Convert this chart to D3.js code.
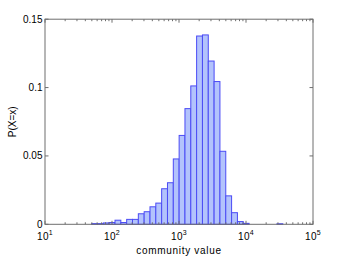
<!DOCTYPE html>
<html><head><meta charset="utf-8">
<script src="https://cdn.jsdelivr.net/npm/d3@7"></script>
<style>
html,body{margin:0;padding:0;background:#fff;}
text{font-family:"Liberation Sans",Arial,sans-serif;fill:#000;}
</style></head>
<body><div id="chart"></div>
<script>
// bin lower edges (log10 of community value)
const binLogLower = [1.697,1.784,1.871,1.958,2.045,2.132,2.219,2.306,2.393,2.480,2.567,2.654,2.741,2.828,2.915,3.002,3.089,3.176,3.263,3.350,3.437,3.524,3.611,3.698,3.785,3.872,3.959,4.462];
const binLogWidth = 0.087;
// probabilities P(X=x)
const probs = [0.0005,0.0005,0.001,0.0013,0.003,0.0013,0.0036,0.0036,0.0077,0.0092,0.0128,0.0155,0.026,0.0304,0.0478,0.065,0.0846,0.1012,0.1377,0.1385,0.1194,0.1044,0.0534,0.0208,0.0085,0.002,0.0007,0.0004];
const xTickExps = [1,2,3,4,5];
const yTicks = [0,0.05,0.1,0.15];
const yTickLabels = ["0","0.05","0.1","0.15"];
const xLabel = "community value";
const yLabel = "P(X=x)";

const W = 346, H = 258;
const m = {left:45, right:33, top:19.2, bottom:33.7};
const svg = d3.select("#chart").append("svg").attr("width",W).attr("height",H);
const x = d3.scaleLog().domain([10,1e5]).range([m.left, W-m.right]);
const y = d3.scaleLinear().domain([0,0.15]).range([H-m.bottom, m.top]);

const bins = binLogLower.map((lo,i)=>({x0:Math.pow(10,lo), x1:Math.pow(10,lo+binLogWidth), p:probs[i]}));

svg.append("g").selectAll("rect").data(bins).join("rect")
  .attr("x",d=>x(d.x0)).attr("width",d=>x(d.x1)-x(d.x0))
  .attr("y",d=>y(d.p)).attr("height",d=>y(0)-y(d.p))
  .attr("fill","#b3c3fc").attr("stroke","#4b4bf5").attr("stroke-width",1);

const axColor = "#6e6e6e";
// frame
svg.append("rect").attr("x",m.left).attr("y",m.top).attr("width",W-m.right-m.left).attr("height",H-m.bottom-m.top)
  .attr("fill","none").attr("stroke",axColor).attr("stroke-width",1);

// x ticks (major & minor) bottom and top, inward
const minorVals = [];
xTickExps.slice(0,-1).forEach(e=>{for(let k=2;k<=9;k++) minorVals.push(k*Math.pow(10,e));});
const majorVals = xTickExps.map(e=>Math.pow(10,e));
const tg = svg.append("g").attr("stroke",axColor).attr("stroke-width",1);
majorVals.forEach(v=>{
  tg.append("line").attr("x1",x(v)).attr("x2",x(v)).attr("y1",y(0)).attr("y2",y(0)-3.5);
  tg.append("line").attr("x1",x(v)).attr("x2",x(v)).attr("y1",y(0.15)).attr("y2",y(0.15)+3.5);
});
minorVals.forEach(v=>{
  tg.append("line").attr("x1",x(v)).attr("x2",x(v)).attr("y1",y(0)).attr("y2",y(0)-2);
  tg.append("line").attr("x1",x(v)).attr("x2",x(v)).attr("y1",y(0.15)).attr("y2",y(0.15)+2);
});
yTicks.forEach(v=>{
  tg.append("line").attr("x1",m.left).attr("x2",m.left+3.5).attr("y1",y(v)).attr("y2",y(v));
  tg.append("line").attr("x1",W-m.right).attr("x2",W-m.right-3.5).attr("y1",y(v)).attr("y2",y(v));
});

// x tick labels 10^n
const fs = 10;
xTickExps.forEach(e=>{
  const t = svg.append("text").attr("x",x(Math.pow(10,e))).attr("y",y(0)+16).attr("text-anchor","middle").style("font-size",fs+"px").style("letter-spacing","0.3px");
  t.append("tspan").text("10");
  t.append("tspan").attr("dy",-5).style("font-size","7px").text(e);
});
// y tick labels
yTicks.forEach((v,i)=>{
  svg.append("text").attr("x",m.left-2.5).attr("y",y(v)).attr("dy","0.35em").attr("text-anchor","end").style("font-size",fs+"px").text(yTickLabels[i]);
});
// axis labels
svg.append("text").attr("x",(m.left+W-m.right)/2).attr("y",H-4).attr("text-anchor","middle").style("font-size",fs+"px").style("letter-spacing","0.7px").text(xLabel);
svg.append("text").attr("transform",`translate(16,${(m.top+H-m.bottom)/2}) rotate(-90)`).attr("text-anchor","middle").style("font-size",fs+"px").text(yLabel);
</script></body></html>
